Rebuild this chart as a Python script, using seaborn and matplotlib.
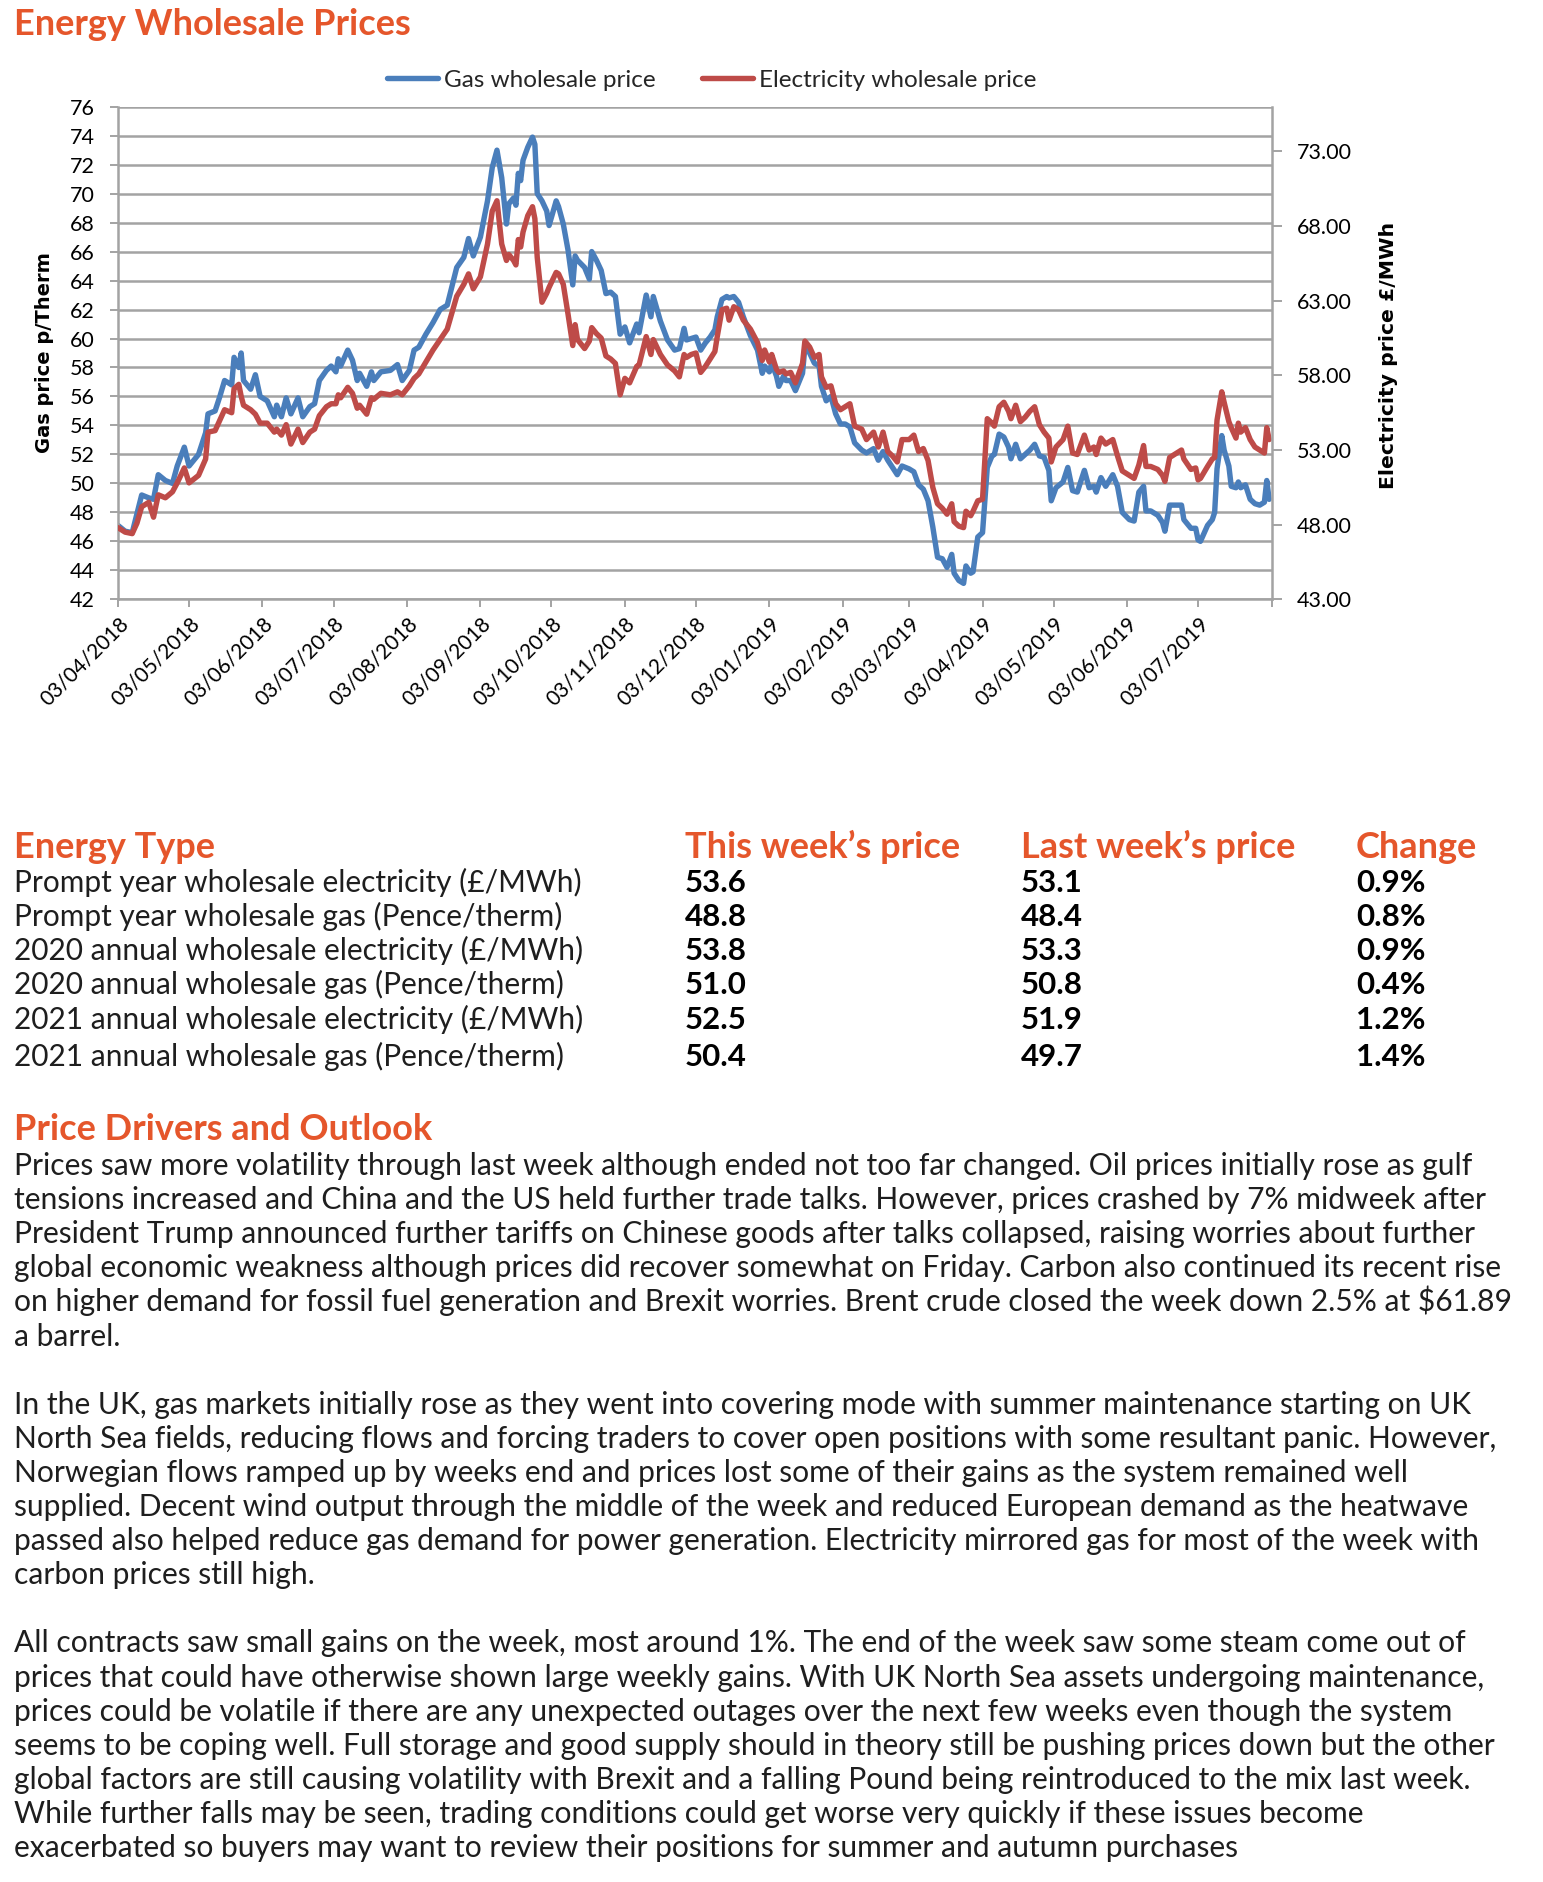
import numpy as np
import pandas as pd
import matplotlib
matplotlib.use("Agg")
import matplotlib.pyplot as plt
from matplotlib.lines import Line2D
import seaborn as sns

# ---------------- data ----------------
start_date = "2018-04-03"
end_date = "2019-08-03"
day_offsets = [0, 3, 6, 8, 10, 13, 15, 17, 20, 23, 25, 28, 30, 34, 37, 38, 41, 43, 45, 48,
               49, 51, 52, 53, 56, 58, 60, 63, 66, 67, 69, 71, 73, 76, 78, 81, 83, 85, 88, 90,
               92, 93, 94, 97, 99, 101, 102, 105, 107, 108, 111, 115, 118, 120, 123, 125, 127, 130, 133, 136,
               139, 143, 146, 148, 150, 153, 156, 158, 160, 162, 164, 165, 167, 168, 169, 170, 171, 173, 175, 176,
               177, 179, 181, 182, 185, 186, 188, 190, 192, 193, 194, 197, 199, 200, 202, 204, 206, 208, 210, 212,
               214, 216, 219, 220, 223, 225, 226, 229, 232, 235, 237, 239, 240, 242, 244, 246, 248, 250, 252, 253,
               255, 257, 258, 260, 262, 264, 267, 270, 272, 273, 275, 276, 278, 279, 281, 282, 284, 286, 289, 290,
               292, 294, 296, 297, 299, 301, 303, 305, 307, 309, 311, 314, 316, 319, 321, 323, 325, 327, 329, 331,
               334, 336, 338, 340, 342, 344, 346, 348, 350, 352, 353, 355, 357, 358, 360, 361, 363, 365, 367, 369,
               370, 372, 374, 376, 377, 379, 381, 383, 385, 387, 389, 391, 393, 394, 396, 399, 401, 403, 405, 408,
               410, 412, 413, 415, 417, 420, 422, 424, 427, 429, 431, 433, 434, 436, 439, 441, 442, 444, 446, 449,
               450, 453, 455, 456, 457, 460, 462, 463, 464, 466, 467, 469, 470, 472, 473, 474, 476, 478, 480, 482,
               484, 485, 486]
gas_price = [47.1, 46.7, 46.6, 47.9, 49.2, 49.0, 48.9, 50.6, 50.2, 50.0, 51.2, 52.5, 51.2, 52.0, 53.5, 54.8, 55.0, 56.0, 57.1, 56.8,
             58.7, 58.0, 59.0, 57.1, 56.5, 57.5, 56.0, 55.7, 54.6, 55.4, 54.6, 55.9, 54.8, 55.9, 54.6, 55.3, 55.5, 57.1, 57.8, 58.1,
             57.7, 58.6, 58.1, 59.2, 58.5, 57.1, 57.6, 56.7, 57.7, 57.1, 57.7, 57.8, 58.2, 57.1, 57.8, 59.2, 59.4, 60.3, 61.1, 62.0,
             62.3, 64.9, 65.6, 66.9, 65.7, 67.0, 69.5, 71.8, 73.0, 71.1, 67.9, 69.3, 69.7, 69.2, 71.4, 70.9, 72.3, 73.2, 73.9, 73.4,
             70.0, 69.5, 68.8, 67.8, 69.5, 69.1, 67.9, 66.1, 63.7, 65.7, 65.4, 64.9, 64.1, 66.0, 65.4, 64.7, 63.1, 63.2, 62.9, 60.3,
             60.8, 59.7, 61.0, 60.4, 63.0, 61.5, 62.9, 61.2, 59.9, 59.2, 59.3, 60.7, 59.9, 60.0, 60.1, 59.2, 59.7, 60.1, 60.6, 61.5,
             62.7, 62.9, 62.8, 62.9, 62.5, 61.5, 60.2, 59.2, 57.6, 58.1, 57.7, 58.3, 57.4, 56.7, 57.4, 57.1, 57.1, 56.4, 57.6, 59.4,
             59.0, 58.3, 58.1, 56.7, 55.7, 56.0, 54.8, 54.1, 54.1, 53.9, 52.8, 52.3, 52.1, 52.4, 51.6, 52.2, 51.6, 51.1, 50.6, 51.2,
             51.0, 50.8, 49.9, 49.6, 48.8, 47.0, 44.9, 44.8, 44.2, 45.1, 43.8, 43.3, 43.1, 44.3, 43.8, 43.9, 46.3, 46.6, 51.1, 51.9,
             52.0, 53.4, 53.2, 52.5, 51.7, 52.7, 51.7, 52.0, 52.3, 52.7, 51.9, 51.8, 50.9, 48.8, 49.7, 50.1, 51.1, 49.5, 49.4, 50.9,
             49.7, 49.8, 49.4, 50.4, 49.8, 50.6, 49.8, 48.0, 47.5, 47.4, 49.4, 49.8, 48.1, 48.1, 47.8, 47.3, 46.7, 48.5, 48.5, 48.5,
             47.5, 46.9, 46.9, 46.1, 46.0, 47.1, 47.5, 48.0, 51.0, 53.3, 52.3, 51.2, 49.8, 49.7, 50.1, 49.7, 49.9, 48.9, 48.6, 48.5,
             48.7, 50.2, 48.9]
elec_price = [47.8, 47.5, 47.4, 48.1, 49.2, 49.5, 48.5, 50.0, 49.8, 50.2, 50.8, 51.8, 50.8, 51.3, 52.4, 54.2, 54.3, 55.0, 55.7, 55.5,
              57.1, 57.4, 56.6, 56.0, 55.7, 55.4, 54.8, 54.8, 54.2, 54.4, 54.0, 54.7, 53.4, 54.4, 53.5, 54.2, 54.4, 55.3, 55.9, 56.1,
              56.1, 56.7, 56.5, 57.2, 56.8, 55.8, 56.0, 55.4, 56.5, 56.4, 56.8, 56.7, 56.9, 56.7, 57.3, 57.8, 58.1, 58.9, 59.7, 60.4,
              61.1, 63.3, 64.1, 64.8, 63.8, 64.6, 66.8, 69.0, 69.7, 66.8, 65.7, 66.1, 65.7, 65.4, 67.1, 66.6, 67.6, 68.7, 69.3, 68.5,
              65.9, 62.9, 63.5, 63.9, 64.9, 64.8, 64.1, 62.1, 60.0, 61.4, 60.4, 59.8, 60.3, 61.2, 60.8, 60.5, 59.3, 59.1, 58.8, 56.7,
              57.8, 57.5, 58.6, 58.7, 60.6, 59.4, 60.4, 59.4, 58.7, 58.3, 57.9, 59.4, 59.2, 59.4, 59.5, 58.2, 58.6, 59.1, 59.6, 60.6,
              62.4, 62.5, 61.7, 62.6, 62.4, 61.7, 61.1, 60.2, 59.0, 59.7, 58.9, 59.4, 58.4, 58.2, 58.3, 58.1, 58.2, 57.5, 58.8, 60.3,
              59.9, 59.2, 59.4, 57.9, 57.2, 57.3, 56.1, 55.7, 55.9, 56.1, 54.6, 54.4, 53.7, 54.2, 53.2, 54.2, 52.9, 52.6, 52.2, 53.7,
              53.7, 54.0, 52.9, 53.1, 52.3, 50.5, 49.4, 49.1, 48.7, 49.4, 48.2, 47.9, 47.8, 48.9, 48.6, 48.9, 49.6, 49.7, 55.1, 54.8,
              54.6, 55.9, 56.2, 55.6, 55.1, 56.0, 54.9, 55.2, 55.6, 55.9, 54.7, 54.2, 53.8, 52.2, 53.2, 53.7, 54.6, 52.8, 52.7, 54.0,
              53.0, 53.2, 52.7, 53.8, 53.4, 53.7, 52.6, 51.6, 51.3, 51.1, 52.0, 53.3, 51.9, 51.9, 51.7, 51.3, 50.9, 52.5, 52.7, 53.0,
              52.4, 51.7, 51.8, 51.0, 51.1, 51.9, 52.4, 52.5, 55.0, 56.9, 56.2, 54.9, 54.5, 53.8, 54.8, 54.2, 54.5, 53.7, 53.2, 53.0,
              52.8, 54.5, 53.7]

gas_ticks = list(range(42, 77, 2))
elec_ticks = [43, 48, 53, 58, 63, 68, 73]
gas_limits = (42, 76)
elec_limits = (43, 76)
series_labels = ["Gas wholesale price", "Electricity wholesale price"]

table_header = ["Energy Type", "This week\u2019s price", "Last week\u2019s price", "Change"]
energy_types = ["Prompt year wholesale electricity (\u00a3/MWh)",
                "Prompt year wholesale gas (Pence/therm)",
                "2020 annual wholesale electricity (\u00a3/MWh)",
                "2020 annual wholesale gas (Pence/therm)",
                "2021 annual wholesale electricity (\u00a3/MWh)",
                "2021 annual wholesale gas (Pence/therm)"]
this_week = [53.6, 48.8, 53.8, 51.0, 52.5, 50.4]
last_week = [53.1, 48.4, 53.3, 50.8, 51.9, 49.7]
change_pct = [0.9, 0.8, 0.9, 0.4, 1.2, 1.4]

paragraphs = [
    ["Prices saw more volatility through last week although ended not too far changed. Oil prices initially rose as gulf",
     "tensions increased and China and the US held further trade talks. However, prices crashed by 7% midweek after",
     "President Trump announced further tariffs on Chinese goods after talks collapsed, raising worries about further",
     "global economic weakness although prices did recover somewhat on Friday. Carbon also continued its recent rise",
     "on higher demand for fossil fuel generation and Brexit worries. Brent crude closed the week down 2.5% at \\$61.89",
     "a barrel."],
    ["In the UK, gas markets initially rose as they went into covering mode with summer maintenance starting on UK",
     "North Sea fields, reducing flows and forcing traders to cover open positions with some resultant panic. However,",
     "Norwegian flows ramped up by weeks end and prices lost some of their gains as the system remained well",
     "supplied. Decent wind output through the middle of the week and reduced European demand as the heatwave",
     "passed also helped reduce gas demand for power generation. Electricity mirrored gas for most of the week with",
     "carbon prices still high."],
    ["All contracts saw small gains on the week, most around 1%. The end of the week saw some steam come out of",
     "prices that could have otherwise shown large weekly gains. With UK North Sea assets undergoing maintenance,",
     "prices could be volatile if there are any unexpected outages over the next few weeks even though the system",
     "seems to be coping well. Full storage and good supply should in theory still be pushing prices down but the other",
     "global factors are still causing volatility with Brexit and a falling Pound being reintroduced to the mix last week.",
     "While further falls may be seen, trading conditions could get worse very quickly if these issues become",
     "exacerbated so buyers may want to review their positions for summer and autumn purchases"],
]

# ---------------- style ----------------
sns.set_theme(style="white")
plt.rcParams["font.family"] = ["Lato", "DejaVu Sans"]

BLUE = "#4A7EBB"
RED = "#BE4B48"
ORANGE = "#E5562B"
GRID = "#A3A3A3"
TEXT = "#1E1E1E"

W, H = 1543, 1882
fig = plt.figure(figsize=(W / 100, H / 100), dpi=100)
fig.patch.set_facecolor("white")


def fx(x):
    return x / W


def fy(y):
    return 1 - y / H


ax = fig.add_axes([fx(118), fy(599.3), fx(1271.5) - fx(118), fy(106.7) - fy(599.3)])
ax2 = ax.twinx()

df = pd.DataFrame({
    "date": pd.Timestamp(start_date) + pd.to_timedelta(day_offsets, unit="D"),
    "gas": gas_price,
    "elec": elec_price,
})

sns.lineplot(data=df, x="date", y="gas", ax=ax, color=BLUE, lw=3.9,
             solid_joinstyle="round", solid_capstyle="round")
sns.lineplot(data=df, x="date", y="elec", ax=ax2, color=RED, lw=3.9,
             solid_joinstyle="round", solid_capstyle="round")

ax.set_xlim(pd.Timestamp(start_date), pd.Timestamp(end_date))
ax.set_ylim(*gas_limits)
ax2.set_ylim(*elec_limits)
ax.set_yticks(gas_ticks)
ax.set_yticklabels([str(t) for t in gas_ticks])
ax2.set_yticks(elec_ticks)
ax2.set_yticklabels([f"{t:.2f}" for t in elec_ticks])

month_ticks = [pd.Timestamp(start_date) + pd.DateOffset(months=i) for i in range(17)]
ax.set_xticks(month_ticks)
labels = [d.strftime("%d/%m/%Y") for d in month_ticks]
labels[-1] = ""
ax.set_xticklabels(labels)
for lab in ax.get_xticklabels():
    lab.set_rotation(45)
    lab.set_ha("right")
    lab.set_rotation_mode("anchor")

ax.grid(False)
ax2.grid(False)
ax.yaxis.grid(True, color=GRID, lw=1.8)
ax.set_axisbelow(True)

for a in (ax, ax2):
    a.set_xlabel("")
    a.set_ylabel("")
    for s in a.spines.values():
        s.set_visible(False)
ax.spines["left"].set_visible(True)
ax.spines["left"].set_color(GRID)
ax.spines["left"].set_linewidth(1.8)
ax.spines["bottom"].set_visible(True)
ax.spines["bottom"].set_color(GRID)
ax.spines["bottom"].set_linewidth(1.8)
ax2.spines["right"].set_visible(True)
ax2.spines["right"].set_color(GRID)
ax2.spines["right"].set_linewidth(1.8)

ax.tick_params(axis="y", direction="out", length=6, width=1.4, color=GRID, pad=11,
               labelsize=15.5, labelcolor="black", left=True)
ax.tick_params(axis="x", direction="out", length=6, width=1.4, color=GRID, pad=4,
               labelsize=15, labelcolor="black", bottom=True)
ax2.tick_params(axis="y", direction="out", length=7, width=1.4, color=GRID, pad=11,
                labelsize=15.5, labelcolor="black", right=True)

fig.text(fx(45), fy(353), "Gas price p/Therm", rotation=90, ha="center", va="center",
         fontsize=14, fontweight="bold", family=["DejaVu Sans"], color="black")
fig.text(fx(1389), fy(355), "Electricity price \u00a3/MWh", rotation=90, ha="center", va="center",
         fontsize=14.7, fontweight="bold", family=["DejaVu Sans"], color="black")

handles = [Line2D([0], [0], color=BLUE, lw=3.9), Line2D([0], [0], color=RED, lw=3.9)]
fig.legend(handles, series_labels, loc="center", bbox_to_anchor=(fx(712), fy(80)), ncol=2,
           frameon=False, fontsize=17.5, handlelength=2.1, handletextpad=0.25, columnspacing=1.9)

# ---------------- title ----------------
fig.text(fx(14), fy(35), "Energy Wholesale Prices", fontsize=26, fontweight="bold",
         color=ORANGE, va="baseline", ha="left")

# ---------------- table ----------------
col_x = [14, 685, 1021, 1356]
for x, h in zip(col_x, table_header):
    fig.text(fx(x), fy(858), h, fontsize=26, fontweight="bold", color=ORANGE, va="baseline")
row_base = [892, 926, 960, 994, 1029, 1066]
for yb, name, tw, lw_, ch in zip(row_base, energy_types, this_week, last_week, change_pct):
    fig.text(fx(col_x[0]), fy(yb), name, fontsize=21.5, color=TEXT, va="baseline")
    fig.text(fx(col_x[1]), fy(yb), f"{tw:.1f}", fontsize=22.5, fontweight="bold", color="black", va="baseline")
    fig.text(fx(col_x[2]), fy(yb), f"{lw_:.1f}", fontsize=22.5, fontweight="bold", color="black", va="baseline")
    fig.text(fx(col_x[3]), fy(yb), f"{ch:.1f}%", fontsize=22.5, fontweight="bold", color="black", va="baseline")

# ---------------- commentary ----------------
fig.text(fx(14), fy(1140), "Price Drivers and Outlook", fontsize=26, fontweight="bold",
         color=ORANGE, va="baseline")
line_gap = 34.1
y0 = 1175
k = 0
for p in paragraphs:
    for line in p:
        fig.text(fx(14), fy(y0 + k * line_gap), line, fontsize=21.6, color=TEXT, va="baseline")
        k += 1
    k += 1

fig.savefig("out.png", dpi=100, facecolor="white")
